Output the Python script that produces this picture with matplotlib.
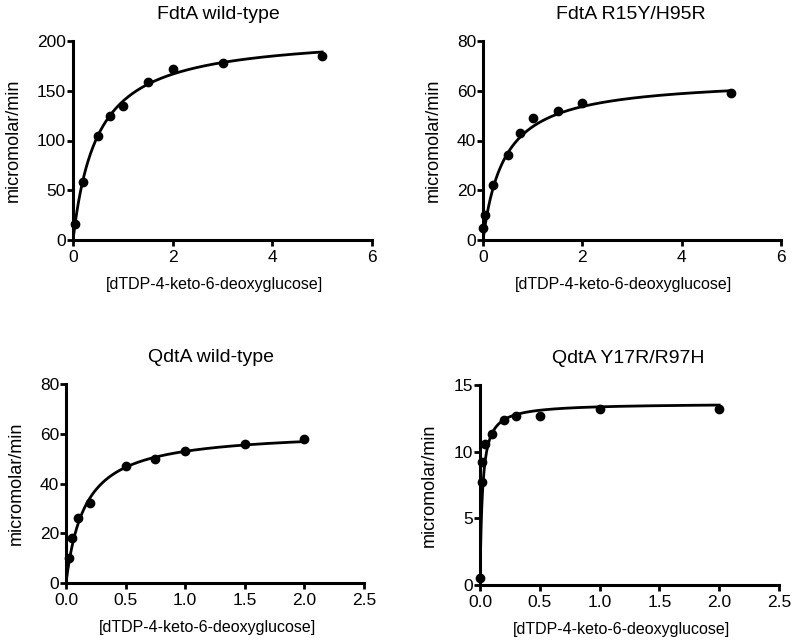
import numpy as np
import matplotlib
matplotlib.use("Agg")
import matplotlib.pyplot as plt

plt.rcParams["font.family"] = ["Liberation Sans", "DejaVu Sans"]

# panel titles
titles = ["FdtA wild-type", "FdtA R15Y/H95R", "QdtA wild-type", "QdtA Y17R/R97H"]

# substrate concentrations and rates
fdta_wt_x = [0.05, 0.2, 0.5, 0.75, 1.0, 1.5, 2.0, 3.0, 5.0]
fdta_wt_y = [16, 58, 105, 125, 135, 159, 172, 178, 185]

fdta_mut_x = [0.01, 0.05, 0.2, 0.5, 0.75, 1.0, 1.5, 2.0, 5.0]
fdta_mut_y = [5, 10, 22, 34, 43, 49, 52, 55, 59]

qdta_wt_x = [0.025, 0.05, 0.1, 0.2, 0.5, 0.75, 1.0, 1.5, 2.0]
qdta_wt_y = [10, 18, 26, 32, 47, 50, 53, 56, 58]

qdta_mut_x = [0.0, 0.015, 0.02, 0.04, 0.1, 0.2, 0.3, 0.5, 1.0, 2.0]
qdta_mut_y = [0.5, 7.7, 9.2, 10.6, 11.3, 12.4, 12.7, 12.7, 13.2, 13.2]

# Michaelis-Menten fit parameters estimated from the drawn curves (Vmax, Km)
vmax = [207.4, 65.2, 61.4, 13.63]
km = [0.488, 0.431, 0.16, 0.02]

# axis ranges / ticks
xmax = [6, 6, 2.5, 2.5]
xticks = [[0, 2, 4, 6], [0, 2, 4, 6],
          [0.0, 0.5, 1.0, 1.5, 2.0, 2.5], [0.0, 0.5, 1.0, 1.5, 2.0, 2.5]]
ymax = [200, 80, 80, 15]
yticks = [[0, 50, 100, 150, 200], [0, 20, 40, 60, 80],
          [0, 20, 40, 60, 80], [0, 5, 10, 15]]

xs = [fdta_wt_x, fdta_mut_x, qdta_wt_x, qdta_mut_x]
ys = [fdta_wt_y, fdta_mut_y, qdta_wt_y, qdta_mut_y]
fit_end = [5.0, 5.0, 2.0, 2.0]

W, H = 794, 642
# axes boxes in pixels: left, right, top, bottom
boxes = [(73, 372, 41, 240), (483, 781, 41, 240),
         (66, 364, 384, 583), (480, 779, 385, 585)]

fig = plt.figure(figsize=(W / 100, H / 100), dpi=100)

for i in range(4):
    l, r, t, b = boxes[i]
    ax = fig.add_axes([l / W, 1 - b / H, (r - l) / W, (b - t) / H])

    xf = np.linspace(0, fit_end[i], 400)
    ax.plot(xf, vmax[i] * xf / (km[i] + xf), color="black", lw=2.0, zorder=3)
    ax.plot(xs[i], ys[i], "o", color="black", ms=6, zorder=4, clip_on=False)

    ax.set_xlim(0, xmax[i])
    ax.set_ylim(0, ymax[i])
    ax.set_xticks(xticks[i])
    ax.set_yticks(yticks[i])
    if i >= 2:
        ax.set_xticklabels([f"{v:.1f}" for v in xticks[i]])
    for s in ["top", "right"]:
        ax.spines[s].set_visible(False)
    for s in ["left", "bottom"]:
        ax.spines[s].set_linewidth(2.2)
    ax.tick_params(width=2.0, length=4, labelsize=12.5)
    ax.tick_params(axis="x", pad=3.5)
    ax.tick_params(axis="y", pad=1)

    ax.set_title(titles[i], fontsize=14, pad=16, x=0.5 - (4 if i % 2 == 0 else 1) / (r - l))
    ax.set_xlabel("[dTDP-4-keto-6-deoxyglucose]", fontsize=11.5, labelpad=8)
    ax.xaxis.label.set_x(0.5 - 8 / (r - l))
    ax.set_ylabel("micromolar/min", fontsize=13, labelpad=11)

fig.savefig("out.png", dpi=100)
